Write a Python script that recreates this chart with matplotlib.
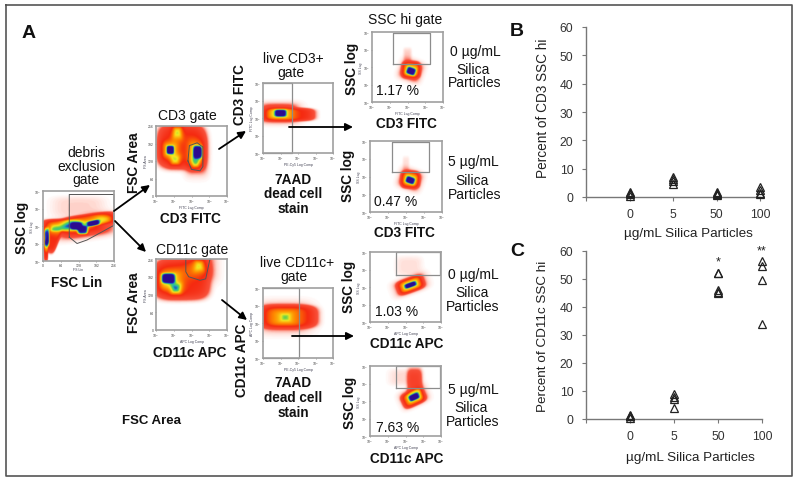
import numpy as np
import matplotlib
matplotlib.use("Agg")
import matplotlib.pyplot as plt
from matplotlib.colors import LinearSegmentedColormap

plt.rcParams['font.family'] = ['Liberation Sans', 'DejaVu Sans']

# ---- scatter data ----
conc_labels = ['', '0', '5', '50', '100']
cd3_0 = [0.5, 1.0, 1.3, 1.8]
cd3_5 = [4.5, 5.5, 6.3, 7.0]
cd3_50 = [0.8, 1.2, 1.4, 1.6]
cd3_100 = [1.0, 1.5, 2.6, 3.4]
cd11c_0 = [0.5, 1.0, 1.1, 1.5]
cd11c_5 = [4.0, 7.0, 8.0, 9.0]
cd11c_50 = [45.0, 45.5, 46.0, 52.0, 52.3]
cd11c_100 = [34.0, 49.5, 54.5, 56.5]
yticks = [0, 10, 20, 30, 40, 50, 60]
sig_labels = ['*', '**']

W, H = 800, 485
fig = plt.figure(figsize=(W / 100, H / 100), dpi=100, facecolor='white')


def axes_px(x0, y0, x1, y1, **kw):
    return fig.add_axes([x0 / W, 1 - y1 / H, (x1 - x0) / W, (y1 - y0) / H], **kw)


flow = LinearSegmentedColormap.from_list('flow', [
    (0.00, '#ffffff'), (0.025, '#ffd8d0'), (0.08, '#f8503a'), (0.28, '#f52a10'),
    (0.42, '#ff8a00'), (0.56, '#f5e820'), (0.66, '#60d050'), (0.74, '#20b8b0'),
    (0.82, '#2030c8'), (1.00, '#2c0c90')])

# density sketches: x, y, sx, sy, angle (deg), amp, sharpness, in panel fractions
blobs_debris = [
    (0.50, 0.78, 0.32, 0.12, 0, 0.028, 2), (0.64, 0.58, 0.32, 0.075, 8, 0.26, 3),
    (0.28, 0.51, 0.24, 0.075, 0, 0.26, 3), (0.13, 0.30, 0.075, 0.16, -20, 0.26, 3),
    (0.04, 0.14, 0.025, 0.12, 0, 0.26, 3), (0.05, 0.34, 0.03, 0.10, 0, 0.85, 2),
    (0.24, 0.47, 0.13, 0.05, 0, 0.30, 1), (0.47, 0.50, 0.06, 0.04, 0, 0.7, 2),
    (0.56, 0.44, 0.06, 0.05, 0, 0.7, 2), (0.71, 0.54, 0.07, 0.03, 12, 0.7, 2),
    (0.60, 0.49, 0.20, 0.075, 8, 0.36, 1), (0.88, 0.60, 0.10, 0.04, 0, 0.17, 1),
]
blobs_cd3 = [
    (0.36, 0.70, 0.29, 0.27, 0, 0.26, 3), (0.20, 0.65, 0.04, 0.045, 0, 0.75, 2),
    (0.20, 0.65, 0.08, 0.08, 0, 0.33, 1), (0.27, 0.50, 0.05, 0.05, 0, 0.28, 1),
    (0.30, 0.90, 0.05, 0.07, 0, 0.34, 1), (0.59, 0.62, 0.05, 0.07, 0, 0.75, 2),
    (0.57, 0.58, 0.075, 0.13, 0, 0.38, 1), (0.56, 0.46, 0.035, 0.05, 0, 0.22, 1),
]
blobs_cd11c = [
    (0.37, 0.72, 0.33, 0.25, 0, 0.26, 3), (0.17, 0.73, 0.075, 0.055, 0, 0.72, 2),
    (0.19, 0.70, 0.12, 0.10, 0, 0.34, 1), (0.28, 0.58, 0.05, 0.05, 0, 0.36, 1),
    (0.61, 0.91, 0.13, 0.12, 0, 0.16, 1), (0.61, 0.91, 0.05, 0.06, 0, 0.2, 1),
]
blobs_live_cd3 = [
    (0.37, 0.55, 0.32, 0.08, 0, 0.26, 3), (0.23, 0.57, 0.14, 0.07, 0, 0.36, 1),
    (0.25, 0.57, 0.065, 0.04, 0, 0.62, 2),
]
blobs_live_cd11c = [
    (0.36, 0.59, 0.36, 0.14, 0, 0.26, 3), (0.30, 0.58, 0.19, 0.11, 0, 0.22, 1),
    (0.32, 0.58, 0.05, 0.04, 0, 0.18, 1),
]
blobs_ssc_0 = [(0.55, 0.46, 0.11, 0.10, 0, 0.26, 3), (0.55, 0.45, 0.075, 0.07, -20, 0.36, 1),
               (0.55, 0.44, 0.05, 0.04, -20, 0.58, 2), (0.50, 0.68, 0.05, 0.08, 0, 0.03, 2)]
blobs_ssc_5 = [(0.56, 0.45, 0.11, 0.10, 0, 0.26, 3), (0.56, 0.45, 0.075, 0.065, -20, 0.36, 1),
               (0.56, 0.44, 0.05, 0.036, -20, 0.58, 2), (0.50, 0.68, 0.04, 0.08, 0, 0.02, 2)]
blobs_11c_0 = [(0.57, 0.53, 0.16, 0.085, 20, 0.26, 3), (0.57, 0.53, 0.11, 0.055, 20, 0.36, 1),
               (0.57, 0.53, 0.07, 0.026, 20, 0.58, 2), (0.55, 0.80, 0.16, 0.12, 0, 0.022, 2)]
blobs_11c_5 = [(0.61, 0.54, 0.14, 0.09, 25, 0.26, 3), (0.63, 0.76, 0.085, 0.17, 0, 0.14, 2),
               (0.62, 0.56, 0.09, 0.06, 25, 0.36, 1), (0.62, 0.555, 0.06, 0.034, 25, 0.58, 2),
               (0.50, 0.84, 0.20, 0.10, 0, 0.025, 2)]


def density(blobs, n=220):
    xs, ys = np.meshgrid(np.linspace(0, 1, n), np.linspace(0, 1, n))
    out = np.zeros_like(xs)
    for cx, cy, sx, sy, ang, amp, sharp in blobs:
        t = np.deg2rad(ang)
        dx, dy = xs - cx, ys - cy
        u = (dx * np.cos(t) + dy * np.sin(t)) / sx
        v = (-dx * np.sin(t) + dy * np.cos(t)) / sy
        out += amp * np.exp(-0.5 * (u ** 4 + v ** 4) ** (sharp / 2))
    return np.clip(out, 0, 1)


def panel(box, blobs, xtick, ytick, xlab, ylab, gate=None, gate2=None):
    ax = axes_px(*box)
    ax.imshow(density(blobs), origin='lower', extent=(0, 1, 0, 1), cmap=flow,
              vmin=0, vmax=1, aspect='auto', interpolation='bilinear')
    ax.set_xlim(0, 1)
    ax.set_ylim(0, 1)
    ax.set_xticks(np.linspace(0, 1, len(xtick)), xtick)
    ax.set_yticks(np.linspace(0, 1, len(ytick)), ytick)
    ax.tick_params(labelsize=2.5, length=1, width=0.4, pad=0.4, color='#555555', labelcolor='#444444')
    ax.set_xlabel(xlab, fontsize=2.5, labelpad=-0.3, color='#445')
    ax.set_ylabel(ylab, fontsize=2.5, labelpad=-0.3, color='#445')
    for s in ax.spines.values():
        s.set_color('#a0a0a0')
        s.set_linewidth(1.2)
    if gate is not None:
        ax.plot(gate[0], gate[1], color='#555555', lw=0.7, clip_on=False)
    if gate2 is not None:
        ax.plot(gate2[0], gate2[1], color='#8c8c8c', lw=0.9, clip_on=False)
    return ax


logt = ['10$^0$', '10$^1$', '10$^2$', '10$^3$', '10$^4$']
lin = ['0', '64', '128', '192', '256']

panel((43, 192, 114, 262), blobs_debris, lin, logt, 'FS Lin', 'SS Log',
      ([0.37, 0.37, 1, 1, 0.62, 0.48, 0.37], [0.34, 0.95, 0.95, 0.51, 0.30, 0.25, 0.34]))
panel((156, 127, 227, 197), blobs_cd3, logt, lin, 'FITC Log Comp', 'FS Area',
      ([0.45, 0.47, 0.58, 0.66, 0.66, 0.62, 0.50, 0.45],
       [0.50, 0.72, 0.76, 0.70, 0.42, 0.36, 0.38, 0.50]))
panel((156, 260, 227, 331), blobs_cd11c, logt, lin, 'APC Log Comp', 'FS Area',
      ([0.42, 0.42, 0.46, 0.62, 0.70, 0.76], [1.0, 0.82, 0.75, 0.70, 0.72, 1.0]))
panel((263, 84, 333, 154), blobs_live_cd3, logt, logt, 'PE-Cy5 Log Comp', 'FITC Log Comp',
      None, ([0, 0.41, 0.41, 0], [1, 1, 0, 0]))
panel((263, 289, 333, 359), blobs_live_cd11c, logt, logt, 'PE-Cy5 Log Comp', 'APC Log Comp',
      None, ([0, 0.52, 0.52, 0], [1, 1, 0, 0]))
panel((372, 33, 443, 103), blobs_ssc_0, logt, logt, 'FITC Log Comp', 'SS Log',
      None, ([0.29, 0.29, 0.81, 0.81, 0.29], [0.55, 0.98, 0.98, 0.55, 0.55]))
panel((370, 142, 442, 213), blobs_ssc_5, logt, logt, 'FITC Log Comp', 'SS Log',
      None, ([0.30, 0.30, 0.82, 0.82, 0.30], [0.56, 0.99, 0.99, 0.56, 0.56]))
panel((370, 253, 441, 323), blobs_11c_0, logt, logt, 'APC Log Comp', 'SS Log',
      None, ([0.36, 0.36, 0.98, 0.98, 0.36], [0.67, 1.0, 1.0, 0.67, 0.67]))
panel((370, 367, 441, 437), blobs_11c_5, logt, logt, 'APC Log Comp', 'SS Log',
      None, ([0.36, 0.36, 0.99, 0.99, 0.36], [0.68, 1.0, 1.0, 0.68, 0.68]))


def scatter_axes(box, groups):
    ax = axes_px(*box)
    for i, vals in enumerate(groups):
        ax.plot([i] * len(vals), vals, linestyle='none', marker='^', ms=6.2,
                mfc='none', mec='#222222', mew=0.9, clip_on=False, zorder=4)
    ax.set_xlim(-1, 3)
    ax.set_ylim(0, 60)
    ax.set_yticks(yticks)
    ax.set_xticks(range(-1, 4), conc_labels)
    ax.tick_params(labelsize=8.7, length=3, width=0.8, color='#777777', labelcolor='#333333')
    ax.tick_params(axis='x', pad=5)
    ax.tick_params(axis='y', pad=6)
    for s in ('top', 'right'):
        ax.spines[s].set_visible(False)
    for s in ('left', 'bottom'):
        ax.spines[s].set_color('#777777')
        ax.spines[s].set_linewidth(1.0)
    ax.patch.set_alpha(0)
    return ax


ax_b = scatter_axes((586, 28, 760, 198), [cd3_0, cd3_5, cd3_50, cd3_100])
ax_c = scatter_axes((586, 252, 762, 420), [cd11c_0, cd11c_5, cd11c_50, cd11c_100])
ax_c.text(2, 56.2, sig_labels[0], ha='center', va='center', fontsize=9, color='#222222')
ax_c.text(3, 60.2, sig_labels[1], ha='center', va='center', fontsize=9, color='#222222')

# ---- overlay in pixel coordinates ----
ov = fig.add_axes([0, 0, 1, 1], zorder=10)
ov.set_xlim(0, W)
ov.set_ylim(H, 0)
ov.axis('off')
ov.patch.set_alpha(0)

ov.plot([6, 792, 792, 6, 6], [6, 6, 477, 477, 6], color='#555555', lw=1.2, clip_on=False)


def T(x, y, s, size=10, bold=False, rot=0, color='#111111'):
    ov.text(x, y, s, ha='center', va='center', fontsize=size, rotation=rot,
            fontweight='bold' if bold else 'normal', color=color)


BS = 9.8
T(29, 33, 'A', 14, True)
T(517, 32, 'B', 14, True)
T(517, 252, 'C', 14, True)
for y, s in zip([153, 167, 180], ['debris', 'exclusion', 'gate']):
    T(86, y, s)
T(22, 228, 'SSC log', BS, True, 90)
T(77, 283, 'FSC Lin', BS, True)
T(187, 116, 'CD3 gate')
T(134, 163, 'FSC Area', BS, True, 90)
T(190, 219, 'CD3 FITC', BS, True)
T(192, 250, 'CD11c gate')
T(134, 303, 'FSC Area', BS, True, 90)
T(190, 353, 'CD11c APC', BS, True)
T(152, 421, 'FSC Area', 9.5, True)
T(293, 59, 'live CD3+')
T(291, 73, 'gate')
T(240, 95, 'CD3 FITC', BS, True, 90)
for y, s in zip([180, 194, 209], ['7AAD', 'dead cell', 'stain']):
    T(293, y, s, BS, True)
T(405, 20, 'SSC hi gate')
T(352, 69, 'SSC log', BS, True, 90)
T(398, 91, '1.17 %')
T(406, 124, 'CD3 FITC', BS, True)
T(475, 52, '0 µg/mL')
T(473, 70, 'Silica')
T(475, 83, 'Particles')
T(348, 176, 'SSC log', BS, True, 90)
T(396, 202, '0.47 %')
T(404, 233, 'CD3 FITC', BS, True)
T(473, 162, '5 µg/mL')
T(472, 181, 'Silica')
T(475, 195, 'Particles')
T(297, 263, 'live CD11c+')
T(294, 277, 'gate')
T(242, 360, 'CD11c APC', BS, True, 90)
for y, s in zip([383, 398, 413], ['7AAD', 'dead cell', 'stain']):
    T(293, y, s, BS, True)
T(349, 287, 'SSC log', BS, True, 90)
T(397, 312, '1.03 %')
T(407, 344, 'CD11c APC', BS, True)
T(473, 275, '0 µg/mL')
T(472, 293, 'Silica')
T(473, 307, 'Particles')
T(350, 403, 'SSC log', BS, True, 90)
T(398, 428, '7.63 %')
T(407, 459, 'CD11c APC', BS, True)
T(473, 390, '5 µg/mL')
T(471, 408, 'Silica')
T(473, 422, 'Particles')

T(543, 108, 'Percent of CD3 SSC hi', 9.8, False, 90, '#222222')
T(543, 336, 'Percent of CD11c SSC hi', 9.7, False, 90, '#222222')
T(688, 234, 'µg/mL Silica Particles', 9.7, False, 0, '#222222')
T(690, 458, 'µg/mL Silica Particles', 9.7, False, 0, '#222222')

for a, b in [((114, 212), (150, 186)), ((115, 222), (146, 253)), ((219, 150), (246, 132)),
             ((222, 301), (247, 321)), ((289, 128), (353, 128)), ((292, 337), (354, 337))]:
    ov.annotate('', xy=b, xytext=a, arrowprops=dict(arrowstyle='-|>', color='black', lw=1.3,
                                                    mutation_scale=11, shrinkA=0, shrinkB=0))

fig.savefig('out.png', dpi=100)
